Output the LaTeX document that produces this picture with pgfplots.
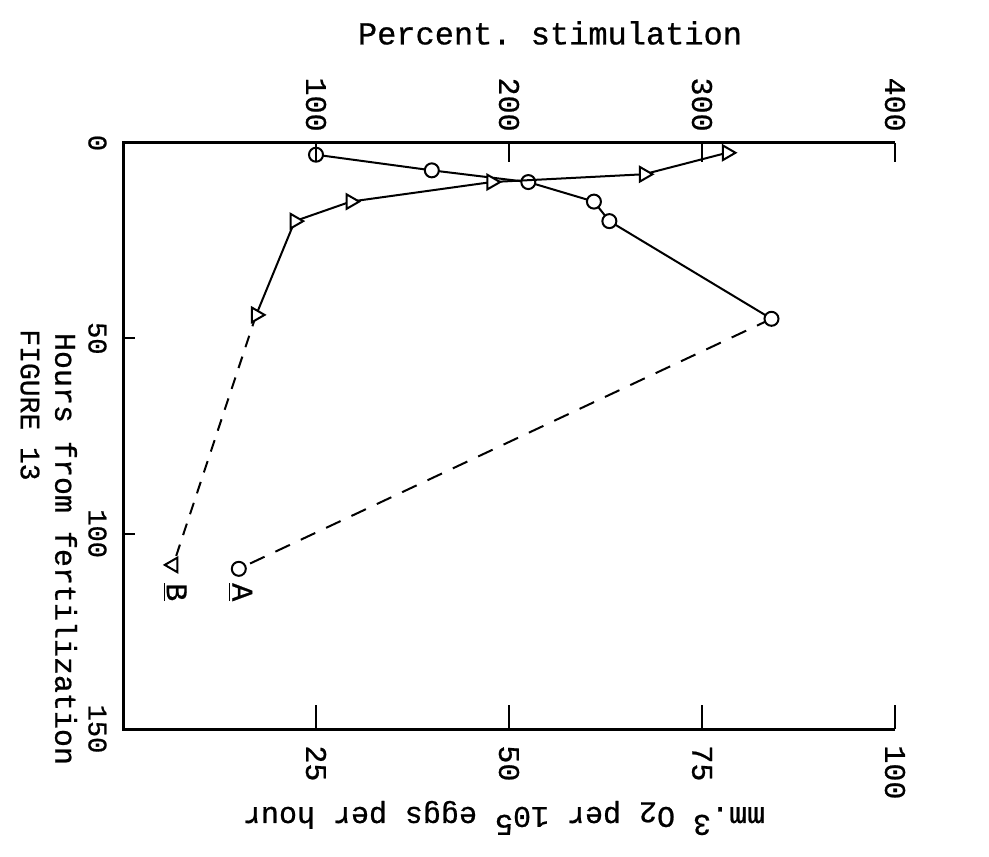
\documentclass[border=0pt]{standalone}
\usepackage{pgfplots}
\pgfplotsset{compat=1.18}
\usepackage{fontspec}
\setmainfont{Liberation Mono}[FakeBold=0.7]
\frenchspacing

\begin{document}
\begin{tikzpicture}[x=1pt,y=1pt]
\useasboundingbox (0,0) rectangle (494.5,428);
\pgfplotsset{
  frame/.style={
    at={(61.5pt,63.5pt)}, anchor=south west,
    width=386pt, height=293pt, scale only axis,
    ymin=0, ymax=150, y dir=reverse,
    axis line style={draw=none},
    tick align=inside,
    every tick/.style={black, line width=1pt},
    tick label style={font=\fontsize{15}{18}\selectfont},
    /pgf/number format/assume math mode=true,
    clip=false,
  },
}

% O2 uptake, mm^3 per 10^5 eggs per hour (bottom scale)
\begin{axis}[frame, name=main,
  xmin=0, xmax=100,
  xtick={25,50,75,100}, ytick=\empty,
  xtick pos=lower, xticklabel pos=lower,
  major tick length=12pt,
  xticklabel style={rotate=-90, anchor=west, inner sep=0pt},
  xticklabel shift=8pt]
  \addplot[black, line width=1pt, dash pattern=on 8pt off 6pt]
    coordinates {(84,45) (15,109)};
  \addplot[black, line width=1pt, mark=*, mark size=3.5pt,
    mark options={solid, fill=white, draw=black, line width=1pt}]
    coordinates {(25,3) (40,7) (52.5,10) (61,15) (63,20) (84,45)};
  \addplot[only marks, mark=*, mark size=3.5pt,
    mark options={fill=white, draw=black, line width=1pt}]
    coordinates {(15,109)};
  \node[rotate=-90, font=\fontsize{15}{18}\selectfont] at (axis cs:15.2,115) {\underline{A}};
  \node[rotate=-90, font=\fontsize{15}{18}\selectfont] at (axis cs:6.7,115) {\underline{B}};
\end{axis}

% percent stimulation (top scale)
\begin{axis}[frame,
  xmin=0, xmax=400,
  xtick={100,200,300,400}, ytick=\empty,
  xtick pos=upper, xticklabel pos=upper,
  major tick length=9.5pt,
  xticklabel style={rotate=-90, anchor=east, inner sep=0pt},
  xticklabel shift=5.5pt]
  \addplot[black, line width=1pt, dash pattern=on 6pt off 5pt]
    coordinates {(69,44) (26,108)};
  \addplot[black, line width=1pt, mark=triangle*, mark size=4.2pt,
    mark options={solid, fill=white, draw=black, line width=1pt, rotate=-90}]
    coordinates {(313,2.5) (270,8) (191,10) (118,15) (89,20) (69,44)};
  \addplot[only marks, mark=triangle*, mark size=4.2pt,
    mark options={fill=white, draw=black, line width=1pt, rotate=90}]
    coordinates {(26,108)};
\end{axis}

% hours scale (left)
\begin{axis}[frame,
  xmin=0, xmax=100,
  xtick=\empty, ytick={0,50,100,150},
  ytick pos=left, yticklabel pos=left,
  major tick length=6pt,
  tick label style={font=\fontsize{13.5}{16}\selectfont},
  yticklabel style={rotate=-90, anchor=north, inner sep=0pt},
  yticklabel shift=8pt]
\end{axis}

\draw[line width=1.5pt, line join=miter]
  (main.south east) -- (main.south west) -- (main.north west) -- (main.north east);

\node[font=\fontsize{16}{19}\selectfont] at (275,411.5) {Percent. stimulation};
\node[rotate=-90, font=\fontsize{15}{18}\selectfont] at (33,153.5) {Hours from fertilization};
\node[rotate=-90, font=\fontsize{14}{17}\selectfont] at (15,225.5) {FIGURE 13};
\node[rotate=180, font=\fontsize{15}{18}\selectfont] at (252,19)
  {mm.\raisebox{.5ex}{3} O\raisebox{-.3ex}{2} per 10\raisebox{.5ex}{5} eggs per hour};
\end{tikzpicture}
\end{document}
